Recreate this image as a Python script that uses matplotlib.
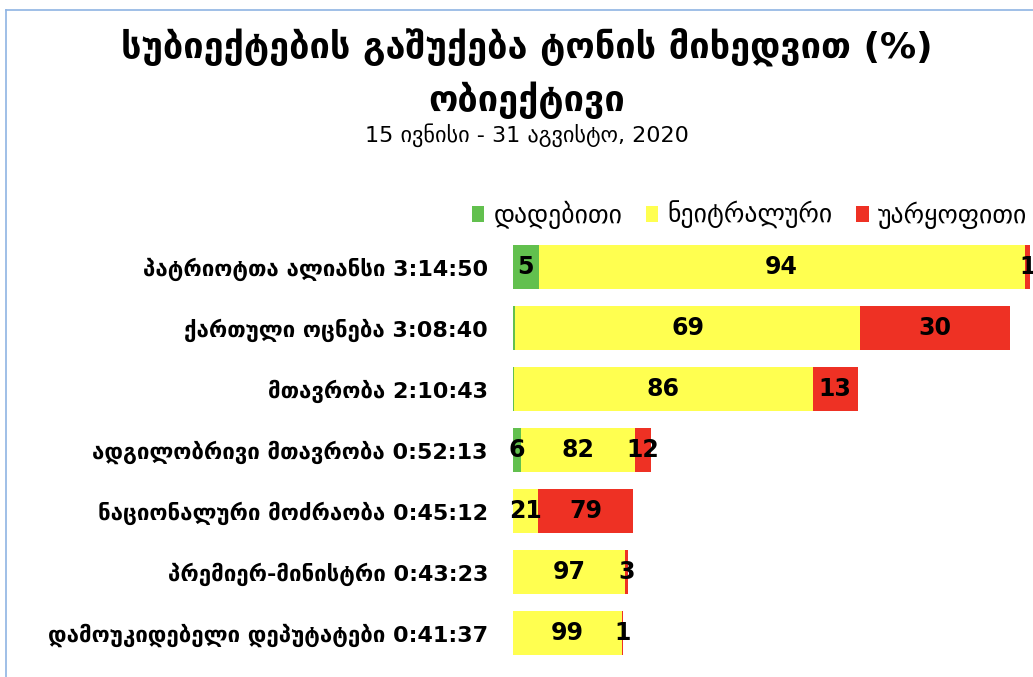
import matplotlib
matplotlib.use("Agg")
import matplotlib.pyplot as plt
from matplotlib.patches import Patch
from matplotlib.lines import Line2D

plt.rcParams['font.family'] = ['DejaVu Sans']

categories = ["პატრიოტთა ალიანსი 3:14:50", "ქართული ოცნება 3:08:40", "მთავრობა 2:10:43",
              "ადგილობრივი მთავრობა 0:52:13", "ნაციონალური მოძრაობა 0:45:12",
              "პრემიერ-მინისტრი 0:43:23", "დამოუკიდებელი დეპუტატები 0:41:37"]
durations = ["3:14:50", "3:08:40", "2:10:43", "0:52:13", "0:45:12", "0:43:23", "0:41:37"]
positive = [5, 0.4, 0.4, 6, 0, 0, 0]
neutral = [94, 69, 86, 82, 21, 97, 99]
negative = [1, 30, 13, 12, 79, 3, 1]
series_names = ["დადებითი", "ნეიტრალური", "უარყოფითი"]
colors = ["#62C04E", "#FFFF50", "#EE3124"]
title_line1 = "სუბიექტების გაშუქება ტონის მიხედვით (%)"
title_line2 = "ობიექტივი"
subtitle = "15 ივნისი - 31 აგვისტო, 2020"


def to_sec(s):
    h, m, sec = s.split(":")
    return int(h) * 3600 + int(m) * 60 + int(sec)


totals = [to_sec(d) for d in durations]

W, H = 1033, 677
fig = plt.figure(figsize=(W / 100, H / 100), dpi=100)
fig.patch.set_facecolor("white")

ax_left = 513 / W
ax = fig.add_axes([ax_left, (H - 663.5) / H, 1 - ax_left, 427 / H])
ax.set_xlim(0, 11765)
ax.set_ylim(6.5, -0.5)

ys = list(range(len(categories)))
lefts = [0] * len(categories)
for vals, col in zip([positive, neutral, negative], colors):
    widths = [t * v / 100 for t, v in zip(totals, vals)]
    ax.barh(ys, widths, left=lefts, height=0.72, color=col, edgecolor="none")
    for y, l, w, v in zip(ys, lefts, widths, vals):
        if v >= 0.5:
            ax.text(l + w / 2, y, f"{v:g}", ha="center", va="center",
                    fontsize=17, fontweight="bold", color="black")
    lefts = [l + w for l, w in zip(lefts, widths)]

ax.set_yticks(ys)
ax.set_yticklabels(categories, fontsize=16, fontweight="bold")
ax.tick_params(axis="y", length=0, pad=18)
ax.set_xticks([])
for s in ax.spines.values():
    s.set_visible(False)

handles = [Patch(facecolor=c, edgecolor="none") for c in colors]
fig.legend(handles, series_names, loc="center right", bbox_to_anchor=(1027 / W, 1 - 215 / H),
           ncol=3, frameon=False, fontsize=18.5, handlelength=0.5, handleheight=0.6,
           handletextpad=0.35, columnspacing=0.9, borderaxespad=0, borderpad=0)

fig.text(527 / W, 1 - 48 / H, title_line1, ha="center", va="center", fontsize=26, fontweight="bold")
fig.text(527 / W, 1 - 100 / H, title_line2, ha="center", va="center", fontsize=26, fontweight="bold")
fig.text(527 / W, 1 - 135 / H, subtitle, ha="center", va="center", fontsize=16)

# frame lines
fig.add_artist(Line2D([6 / W, 1], [1 - 10 / H, 1 - 10 / H], transform=fig.transFigure, color="#8FB4E3", lw=1.2))
fig.add_artist(Line2D([6 / W, 6 / W], [0, 1 - 10 / H], transform=fig.transFigure, color="#8FB4E3", lw=1.2))

fig.savefig("out.png", dpi=100, facecolor="white")
